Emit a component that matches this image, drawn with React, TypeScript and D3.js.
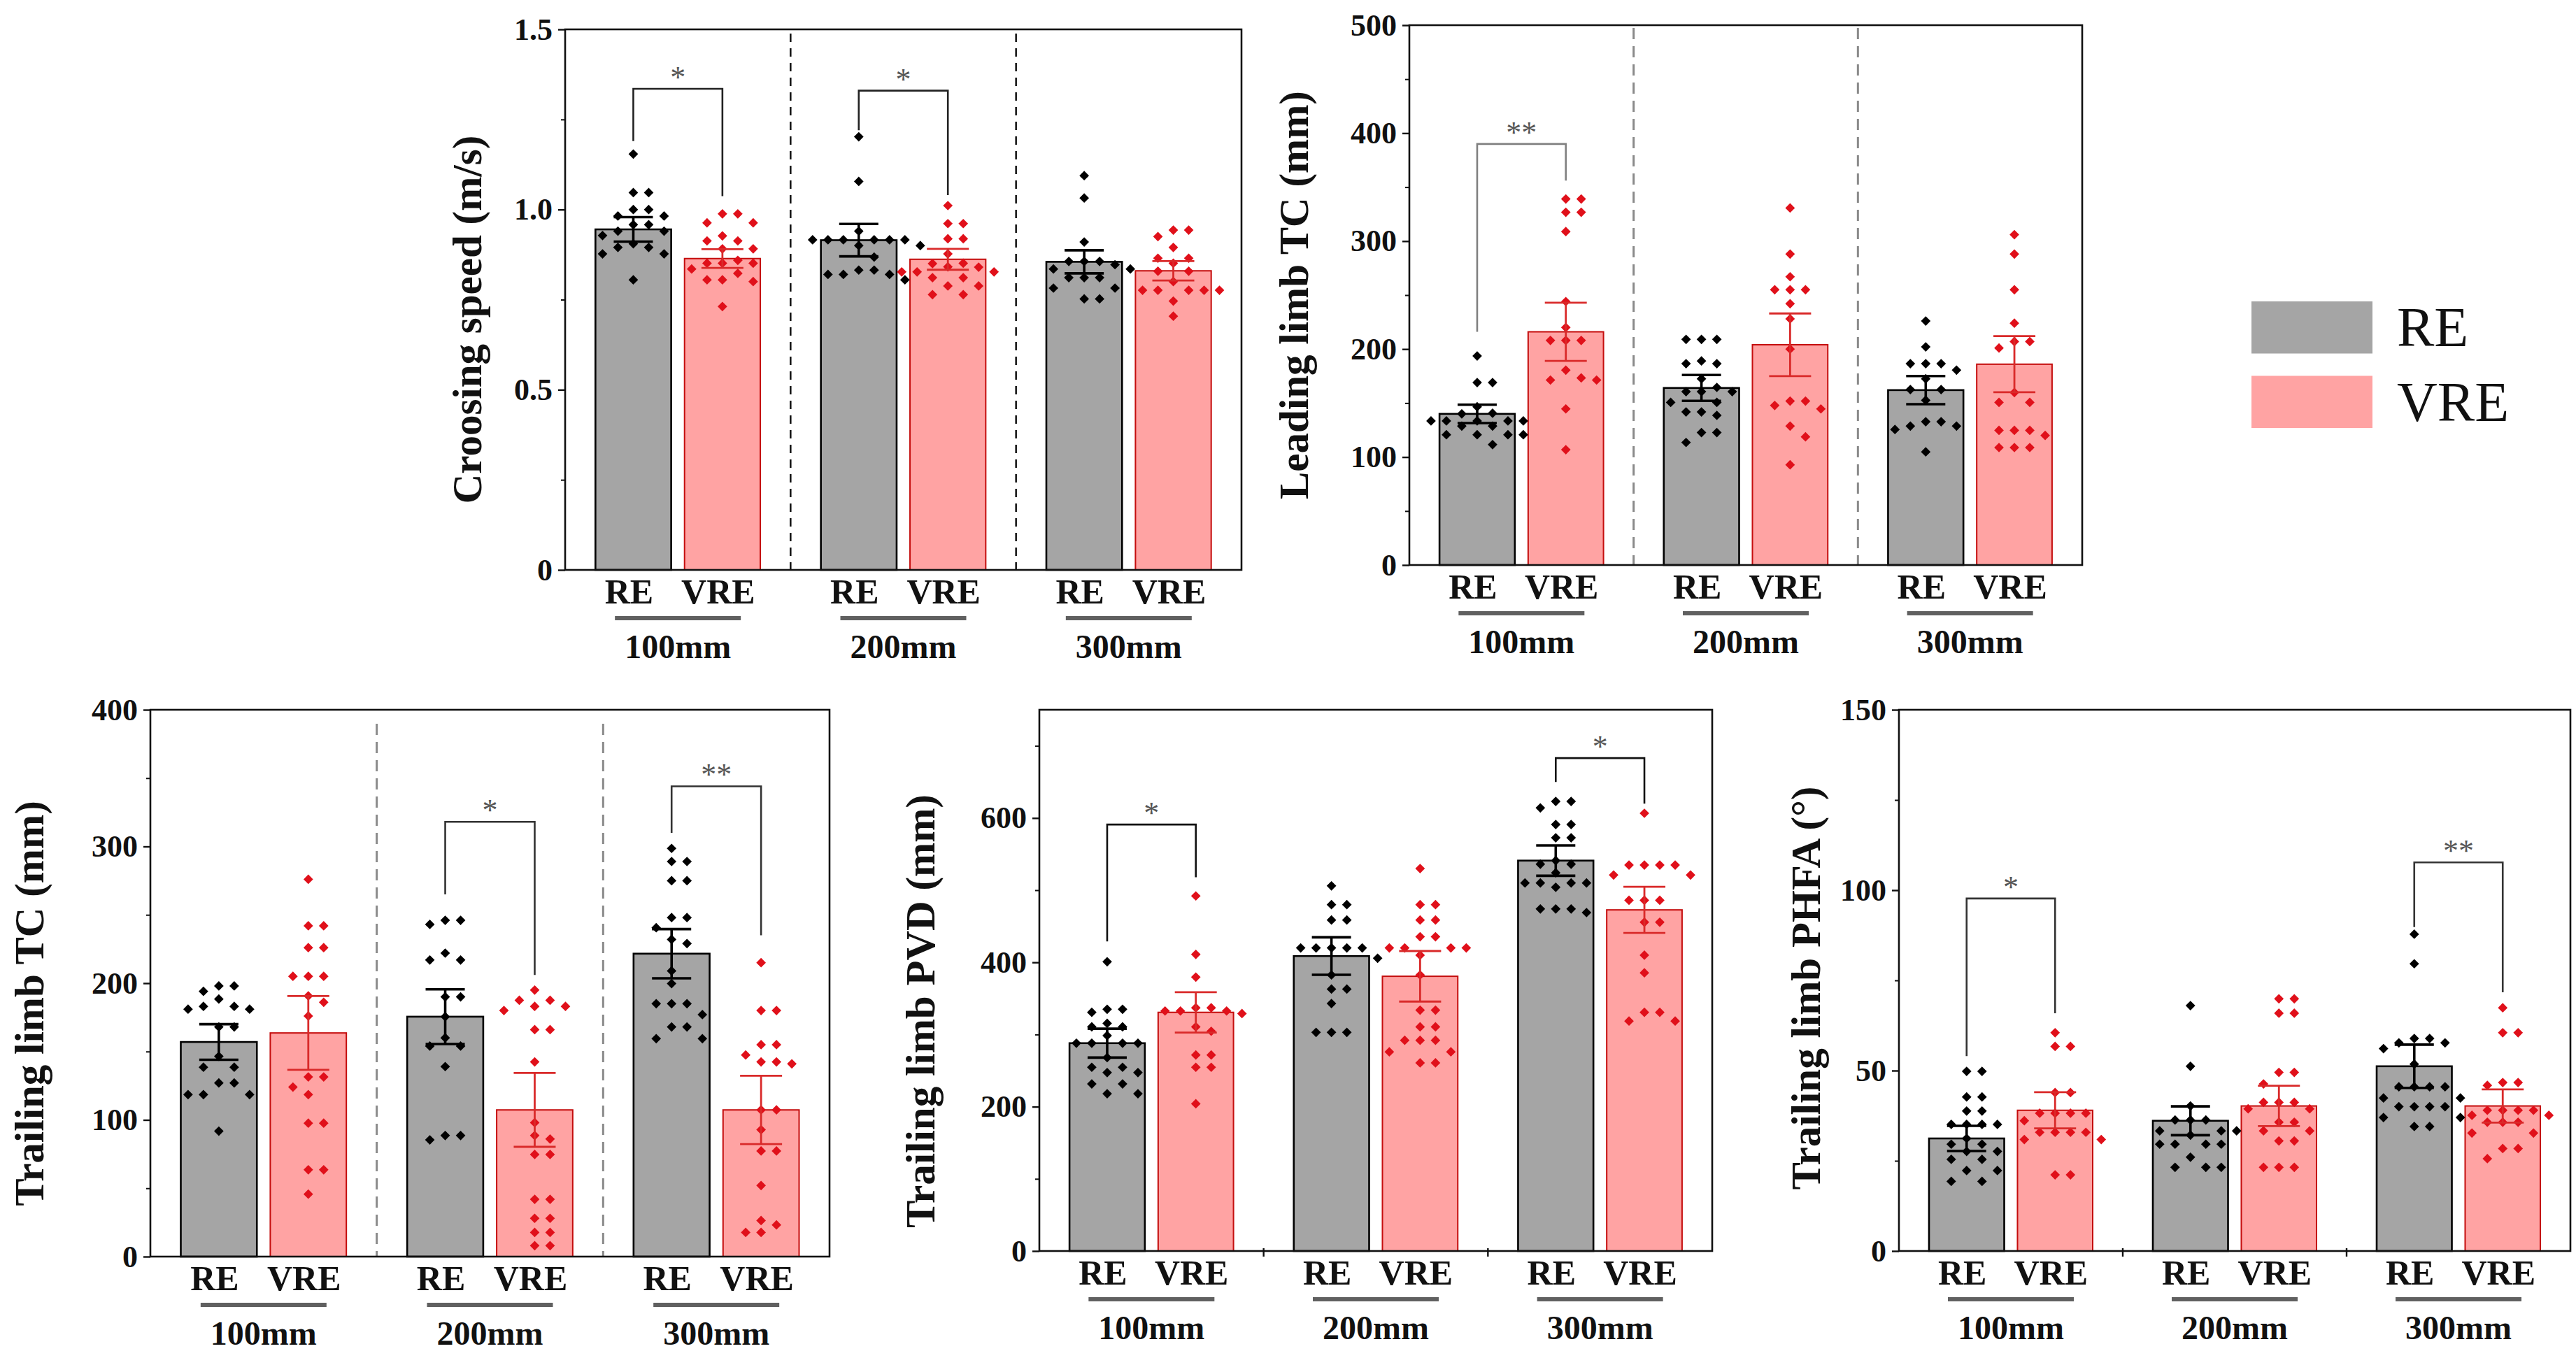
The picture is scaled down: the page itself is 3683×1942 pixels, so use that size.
import { useEffect, useRef } from "react";
import * as d3 from "d3";

const groups = ["100mm", "200mm", "300mm"];
const conditions = ["RE", "VRE"];

// Crossing speed (m/s)
const speedMeanRE = [0.945, 0.915, 0.855];
const speedMeanVRE = [0.864, 0.862, 0.83];
const speedSemRE = [0.034, 0.045, 0.032];
const speedSemVRE = [0.026, 0.029, 0.027];
const speedPointsRE = [
  [1.154, 1.047, 1.047, 1.0, 1.0, 0.982, 0.982, 0.958, 0.958, 0.94, 0.94, 0.928, 0.905, 0.895, 0.895, 0.877, 0.877, 0.805],
  [1.202, 1.078, 0.94, 0.916, 0.916, 0.916, 0.916, 0.916, 0.916, 0.9, 0.9, 0.868, 0.832, 0.832, 0.82, 0.82, 0.82, 0.805],
  [1.094, 1.032, 0.91, 0.856, 0.856, 0.856, 0.847, 0.835, 0.835, 0.811, 0.811, 0.811, 0.782, 0.782, 0.752, 0.752],
];
const speedPointsVRE = [
  [0.988, 0.988, 0.963, 0.963, 0.927, 0.913, 0.913, 0.891, 0.891, 0.859, 0.851, 0.851, 0.851, 0.835, 0.823, 0.805, 0.805, 0.8, 0.731],
  [1.011, 0.961, 0.961, 0.919, 0.919, 0.877, 0.851, 0.85, 0.841, 0.84, 0.827, 0.827, 0.827, 0.811, 0.811, 0.788, 0.788, 0.764, 0.764],
  [0.943, 0.943, 0.925, 0.895, 0.865, 0.865, 0.851, 0.829, 0.829, 0.8, 0.776, 0.776, 0.776, 0.776, 0.776, 0.746, 0.704],
];
const speedSig = [
  { group: "100mm", top: 1.335, left: 1.19, right: 1.037, label: "*" },
  { group: "200mm", top: 1.33, left: 1.22, right: 1.04, label: "*" },
];

// Leading limb TC (mm)
const leadMeanRE = [140, 164, 162];
const leadMeanVRE = [216, 204, 186];
const leadSemRE = [8.5, 12, 13];
const leadSemVRE = [27, 29, 26];
const leadPointsRE = [
  [193.6, 169, 169, 146.6, 140.6, 140, 133.5, 133.5, 133.5, 133.5, 133.5, 128.7, 128.7, 120.7, 120.7, 120.7, 120.7, 111.5],
  [209, 209, 209, 189, 186.5, 186.5, 172.5, 164.5, 160.6, 160.6, 160.6, 150.6, 150.6, 141.8, 141.8, 138.6, 122.7, 122.7, 113.5],
  [226, 202, 186.5, 186.5, 186.5, 180.5, 172.5, 162.5, 162.5, 152.6, 132.7, 132.7, 128.7, 128.7, 125.5, 104.8],
];
const leadPointsVRE = [
  [339, 339, 326.7, 326.7, 308.8, 244, 220, 208, 208, 208, 180.5, 173.3, 171.3, 171.3, 144.6, 106.8],
  [330.7, 288, 267, 255, 255, 255, 242, 228, 200, 151.8, 151.8, 147.8, 144.6, 128.7, 118.7, 92.8],
  [306, 288, 255, 224, 207, 207, 201, 159.8, 150.6, 150.6, 124.7, 124.7, 124.7, 120, 108.8, 108.8, 108.8],
];
const leadSig = [{ group: "100mm", top: 390, left: 216, right: 356, label: "**" }];

// Trailing limb TC (mm)
const trailMeanRE = [157, 175.5, 221.6];
const trailMeanVRE = [163.6, 107.3, 107.3];
const trailSemRE = [13, 20, 18];
const trailSemVRE = [27, 27, 25];
const trailPointsRE = [
  [198, 198, 194, 188.4, 183, 183, 181, 181, 168, 168, 146.5, 138.5, 138.5, 127, 127, 118.5, 118.5, 118.5, 91.8],
  [246, 246, 243, 222, 217, 217, 190, 190, 175.5, 160, 154, 154, 139, 88.6, 88.6, 85.4],
  [298.6, 289, 289, 275, 275, 248, 248, 240.6, 232, 229, 209, 199.7, 185, 185, 185, 177, 168, 168, 159.4, 159.4],
];
const trailPointsVRE = [
  [276, 242, 242, 226, 226, 205, 205, 205, 190.7, 186, 176, 131.4, 131.4, 124, 118.5, 97.6, 97.6, 63.5, 63.5, 45.7],
  [195, 187.5, 187.5, 183, 183, 180, 166, 166, 142.4, 98, 88.6, 86, 74.7, 74.7, 41.9, 41.9, 28, 28, 17.7, 17.7, 8, 8],
  [215, 180, 180, 155, 155, 147.5, 142.4, 142.4, 141, 107.3, 107.3, 92.8, 77.3, 77.3, 52, 26.4, 23.2, 17.7, 17.7],
];
const trailSig = [
  { group: "200mm", top: 318, left: 265, right: 206, label: "*" },
  { group: "300mm", top: 344, left: 310, right: 235, label: "**" },
];

// Trailing limb PVD (mm)
const pvdMeanRE = [288, 408.7, 541];
const pvdMeanVRE = [330.7, 380.7, 472.7];
const pvdSemRE = [20, 26, 21];
const pvdSemVRE = [28, 35, 32];
const pvdPointsRE = [
  [400.8, 335, 335, 330.7, 315.5, 310.6, 310.6, 298.5, 288, 288, 288, 288, 268, 254.6, 254.6, 247.3, 247.3, 231.5, 231.5, 218, 218],
  [506, 480, 480, 458.6, 458.6, 420, 420, 420, 420, 420, 405.7, 382.5, 363, 363, 343, 303, 303, 303],
  [623, 623, 614, 591, 591, 572.6, 572.6, 541, 536, 536, 524, 510, 510, 510, 510, 504, 474, 474, 474, 469],
];
const pvdPointsVRE = [
  [492, 411, 379.5, 337, 337, 332.6, 332.6, 332.6, 329, 310.6, 304.5, 271.6, 271.6, 254.6, 254.6, 204],
  [530, 480, 480, 458.6, 458.6, 435.5, 435.5, 420, 420, 420, 420, 410, 382.5, 333.8, 333.8, 310.6, 310.6, 292, 292, 292, 276, 276, 260.7, 260.7],
  [606.6, 534.8, 534.8, 534.8, 534.8, 521, 521, 486, 486, 486, 455.6, 455.6, 410, 385.5, 330.7, 330.7, 318.6, 318.6],
];
const pvdSig = [
  { group: "100mm", top: 591, left: 429, right: 518, label: "*" },
  { group: "300mm", top: 683, left: 650, right: 620, label: "*" },
];

// Trailing limb PHFA (°)
const phfaMeanRE = [31.2, 36.1, 51.2];
const phfaMeanVRE = [39, 40.2, 40.2];
const phfaSemRE = [3.5, 4, 6];
const phfaSemVRE = [5, 5.6, 4.6];
const phfaPointsRE = [
  [49.8, 49.8, 42.7, 42.7, 38.8, 38.8, 35.1, 35.1, 35.1, 35.1, 31.2, 29.6, 29.6, 27.6, 27.6, 25.4, 25.4, 22.3, 22.3, 19.3, 19.3],
  [68, 51.2, 40.2, 36.3, 36.3, 36.3, 33.3, 33.3, 33.3, 32.1, 29.6, 29.6, 29.6, 29.6, 26, 23.2, 23.2, 23.2],
  [87.8, 79.6, 58.9, 58.9, 57.7, 57.7, 56.1, 51.8, 45.5, 45.5, 45.5, 45.5, 42.4, 42.4, 40, 40, 40, 40, 37, 37, 34.5, 34.5],
];
const phfaPointsVRE = [
  [60.5, 56.7, 56.7, 43.9, 43.9, 38.2, 38.2, 38.2, 38.2, 36.1, 32.9, 32.9, 32.9, 32.9, 30.9, 30.9, 21.1, 21.1],
  [69.9, 69.9, 65.9, 65.9, 49.5, 49.5, 46.3, 41.2, 41.2, 41.2, 39.4, 39.4, 35.7, 35.7, 33.3, 33.3, 30.5, 30.5, 23.2, 23.2, 23.2],
  [67.4, 60.5, 60.5, 46.7, 46.7, 45.9, 39, 39, 39, 39, 37.6, 37.6, 35.7, 35.7, 35.7, 32.7, 32.7, 28.4, 28.4, 25.6],
];
const phfaSig = [
  { group: "100mm", top: 97.7, left: 54, right: 65.9, label: "*" },
  { group: "300mm", top: 107.7, left: 89.8, right: 71.7, label: "**" },
];

const legendLabels = ["RE", "VRE"];

const W = 3683;
const H = 1942;
const FONT = "'Liberation Serif', 'Times New Roman', serif";
const FILL = { RE: "#a5a5a5", VRE: "#ffa3a3" };
const EDGE = { RE: "#000000", VRE: "#c40d0d" };
const DOT = { RE: "#000000", VRE: "#e0101a" };
const ERR = { RE: "#000000", VRE: "#d92a2a" };

type Sig = { group: string; top: number; left: number; right: number; label: string };

const panels = [
  {
    title: "Croosing speed (m/s)", titleX: 688, titleY: 457,
    box: { left: 808, right: 1775, top: 42, bottom: 815 },
    domain: [0, 1.5], ticks: [0, 0.5, 1.0, 1.5], minor: [0.25, 0.75, 1.25],
    fmt: (d: number) => (d === 0 ? "0" : d.toFixed(1)),
    mean: [speedMeanRE, speedMeanVRE], sem: [speedSemRE, speedSemVRE],
    pts: [speedPointsRE, speedPointsVRE], sig: speedSig as Sig[],
    divider: { color: "#111", dash: "12,9", width: 2.5, inset: 6 }, bracket: "#222", boundaryTicks: false,
  },
  {
    title: "Leading limb TC (mm)", titleX: 1870, titleY: 422,
    box: { left: 2015, right: 2977, top: 36, bottom: 808 },
    domain: [0, 500], ticks: [0, 100, 200, 300, 400, 500], minor: [50, 150, 250, 350, 450],
    fmt: (d: number) => String(d),
    mean: [leadMeanRE, leadMeanVRE], sem: [leadSemRE, leadSemVRE],
    pts: [leadPointsRE, leadPointsVRE], sig: leadSig as Sig[],
    divider: { color: "#8a8a8a", dash: "16,10", width: 3, inset: 4 }, bracket: "#808080", boundaryTicks: false,
  },
  {
    title: "Trailing limb TC (mm)", titleX: 62, titleY: 1435,
    box: { left: 215, right: 1186, top: 1015, bottom: 1797 },
    domain: [0, 400], ticks: [0, 100, 200, 300, 400], minor: [50, 150, 250, 350],
    fmt: (d: number) => String(d),
    mean: [trailMeanRE, trailMeanVRE], sem: [trailSemRE, trailSemVRE],
    pts: [trailPointsRE, trailPointsVRE], sig: trailSig as Sig[],
    divider: { color: "#8a8a8a", dash: "16,10", width: 3, inset: 20 }, bracket: "#333", boundaryTicks: false,
  },
  {
    title: "Trailing limb PVD (mm)", titleX: 1336, titleY: 1446,
    box: { left: 1486, right: 2448, top: 1015, bottom: 1789 },
    domain: [0, 750], ticks: [0, 200, 400, 600], minor: [100, 300, 500, 700],
    fmt: (d: number) => String(d),
    mean: [pvdMeanRE, pvdMeanVRE], sem: [pvdSemRE, pvdSemVRE],
    pts: [pvdPointsRE, pvdPointsVRE], sig: pvdSig as Sig[],
    divider: null, bracket: "#111", boundaryTicks: true,
  },
  {
    title: "Trailing limb PHFA (°)", titleX: 2602, titleY: 1413,
    box: { left: 2715, right: 3675, top: 1015, bottom: 1789 },
    domain: [0, 150], ticks: [0, 50, 100, 150], minor: [25, 75, 125],
    fmt: (d: number) => String(d),
    mean: [phfaMeanRE, phfaMeanVRE], sem: [phfaSemRE, phfaSemVRE],
    pts: [phfaPointsRE, phfaPointsVRE], sig: phfaSig as Sig[],
    divider: null, bracket: "#333", boundaryTicks: true,
  },
];

// simple beeswarm: spread points sideways only where they would overlap
function swarm(values: number[], y: (v: number) => number, cx: number, step = 22, r = 17) {
  const placed: { x: number; y: number }[] = [];
  const sorted = [...values].sort((a, b) => b - a);
  for (const v of sorted) {
    const py = y(v);
    let px = cx;
    for (let i = 0; i < 40; i++) {
      const off = i === 0 ? 0 : (i % 2 ? 1 : -1) * Math.ceil(i / 2) * step;
      px = cx + off;
      if (!placed.some((p) => Math.hypot(p.x - px, p.y - py) < r)) break;
    }
    placed.push({ x: px, y: py });
  }
  return placed;
}

export default function App() {
  const ref = useRef<SVGSVGElement>(null);

  useEffect(() => {
    document.body.style.margin = "0";
    if (!ref.current) return;
    const svg = d3.select(ref.current);
    svg.selectAll("*").remove();

    svg.append("rect").attr("width", W).attr("height", H).attr("fill", "#fff");

    panels.forEach((p) => {
      const { left, right, top, bottom } = p.box;
      const g = svg.append("g");
      const y = d3.scaleLinear().domain(p.domain).range([bottom, top]);
      const xg = d3.scaleBand().domain(groups).range([left, right]);
      const xc = d3.scaleBand().domain(conditions).range([0, xg.bandwidth()])
        .paddingInner(0.15).paddingOuter(0.34);
      const bw = xc.bandwidth();

      // bars
      groups.forEach((grp, gi) => {
        conditions.forEach((c, ci) => {
          const x0 = (xg(grp) as number) + (xc(c) as number);
          g.append("rect")
            .attr("x", x0).attr("width", bw)
            .attr("y", y(p.mean[ci][gi])).attr("height", bottom - y(p.mean[ci][gi]))
            .attr("fill", FILL[c as "RE"]).attr("stroke", EDGE[c as "RE"])
            .attr("stroke-width", c === "RE" ? 2.6 : 2);
        });
      });

      // group dividers
      if (p.divider) {
        groups.slice(1).forEach((grp) => {
          const x = xg(grp) as number;
          g.append("line")
            .attr("x1", x).attr("x2", x).attr("y1", top + p.divider!.inset).attr("y2", bottom)
            .attr("stroke", p.divider!.color).attr("stroke-width", p.divider!.width)
            .attr("stroke-dasharray", p.divider!.dash);
        });
      }

      // scatter points
      groups.forEach((grp, gi) => {
        conditions.forEach((c, ci) => {
          const cx = (xg(grp) as number) + (xc(c) as number) + bw / 2;
          const pts = swarm(p.pts[ci][gi], y, cx);
          g.append("g").selectAll("path").data(pts).join("path")
            .attr("transform", (d) => `translate(${d.x},${d.y})`)
            .attr("d", d3.symbol(d3.symbolDiamond2, 120)())
            .attr("fill", DOT[c as "RE"]);
        });
      });

      // error bars
      groups.forEach((grp, gi) => {
        conditions.forEach((c, ci) => {
          const cx = (xg(grp) as number) + (xc(c) as number) + bw / 2;
          const m = p.mean[ci][gi];
          const s = p.sem[ci][gi];
          const cap = c === "RE" ? 28 : 30;
          const eg = g.append("g").attr("stroke", ERR[c as "RE"])
            .attr("stroke-width", c === "RE" ? 3.6 : 2.8);
          eg.append("line").attr("x1", cx).attr("x2", cx).attr("y1", y(m - s)).attr("y2", y(m + s));
          [m - s, m + s].forEach((v) => {
            eg.append("line").attr("x1", cx - cap).attr("x2", cx + cap).attr("y1", y(v)).attr("y2", y(v));
          });
        });
      });

      // frame
      g.append("rect")
        .attr("x", left).attr("y", top).attr("width", right - left).attr("height", bottom - top)
        .attr("fill", "none").attr("stroke", "#111").attr("stroke-width", 2.6);

      if (p.boundaryTicks) {
        groups.slice(1).forEach((grp) => {
          const x = xg(grp) as number;
          g.append("line").attr("x1", x).attr("x2", x).attr("y1", bottom - 4).attr("y2", bottom + 8)
            .attr("stroke", "#111").attr("stroke-width", 2.4);
        });
      }

      // y axis
      const ax = g.append("g").attr("transform", `translate(${left},0)`)
        .call(d3.axisLeft(y).tickValues(p.ticks).tickSize(10).tickPadding(8).tickFormat((d) => p.fmt(d as number)));
      ax.select(".domain").remove();
      ax.selectAll("line").attr("stroke", "#111").attr("stroke-width", 2.4);
      ax.selectAll("text").attr("font-family", FONT).attr("font-weight", "bold")
        .attr("font-size", 44).attr("fill", "#111");
      const mx = g.append("g").attr("transform", `translate(${left},0)`)
        .call(d3.axisLeft(y).tickValues(p.minor).tickSize(6).tickFormat(() => ""));
      mx.select(".domain").remove();
      mx.selectAll("line").attr("stroke", "#111").attr("stroke-width", 2);

      // y title
      g.append("text")
        .attr("transform", `translate(${p.titleX},${p.titleY}) rotate(-90)`)
        .attr("text-anchor", "middle").attr("font-family", FONT).attr("font-weight", "bold")
        .attr("font-size", 59).attr("fill", "#111").text(p.title);

      // x labels
      groups.forEach((grp) => {
        const gc = (xg(grp) as number) + xg.bandwidth() / 2;
        conditions.forEach((c) => {
          const cx = (xg(grp) as number) + (xc(c) as number) + bw / 2 - 6;
          g.append("text").attr("x", cx).attr("y", bottom + 48)
            .attr("text-anchor", "middle").attr("font-family", FONT).attr("font-weight", "bold")
            .attr("font-size", 50).attr("fill", "#111").text(c);
        });
        g.append("line").attr("x1", gc - 90).attr("x2", gc + 90)
          .attr("y1", bottom + 69).attr("y2", bottom + 69)
          .attr("stroke", "#606060").attr("stroke-width", 6);
        g.append("text").attr("x", gc).attr("y", bottom + 126)
          .attr("text-anchor", "middle").attr("font-family", FONT).attr("font-weight", "bold")
          .attr("font-size", 48).attr("fill", "#111").text(grp);
      });

      // significance brackets
      p.sig.forEach((s) => {
        const x1 = (xg(s.group) as number) + (xc("RE") as number) + bw / 2;
        const x2 = (xg(s.group) as number) + (xc("VRE") as number) + bw / 2;
        const path = d3.path();
        path.moveTo(x1, y(s.left));
        path.lineTo(x1, y(s.top));
        path.lineTo(x2, y(s.top));
        path.lineTo(x2, y(s.right));
        g.append("path").attr("d", path.toString()).attr("fill", "none")
          .attr("stroke", p.bracket).attr("stroke-width", 2.6);
        g.append("text").attr("x", (x1 + x2) / 2).attr("y", y(s.top) - 2)
          .attr("text-anchor", "middle").attr("font-family", FONT)
          .attr("font-size", 44).attr("fill", "#555").text(s.label);
      });
    });

    // legend
    const lg = svg.append("g");
    const ly = d3.scaleBand().domain(legendLabels).range([431, 612]).paddingInner(0.3);
    legendLabels.forEach((l) => {
      lg.append("rect").attr("x", 3219).attr("y", ly(l) as number)
        .attr("width", 173).attr("height", ly.bandwidth())
        .attr("fill", FILL[l as "RE"]);
      lg.append("text").attr("x", 3427).attr("y", (ly(l) as number) + ly.bandwidth() / 2 + 27)
        .attr("font-family", FONT).attr("font-size", 80).attr("fill", "#111").text(l);
    });
  }, []);

  return <svg ref={ref} width={W} height={H} style={{ display: "block" }} />;
}
